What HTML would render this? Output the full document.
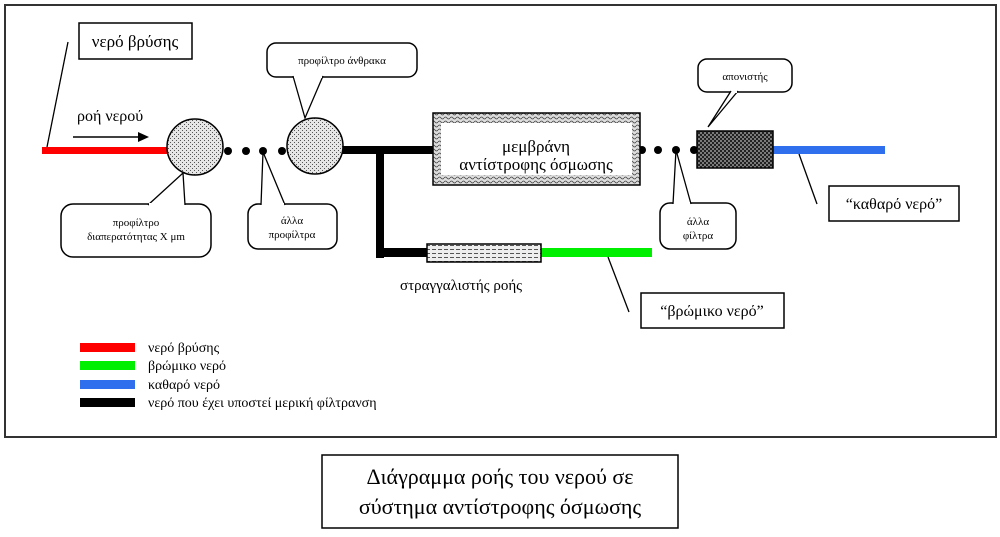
<!DOCTYPE html>
<html><head><meta charset="utf-8"><style>
html,body{margin:0;padding:0;background:#fff;width:1000px;height:537px;overflow:hidden}
svg{display:block}
text{font-family:"Liberation Serif","DejaVu Serif",serif;fill:#000}
</style></head><body>
<svg width="1000" height="537" viewBox="0 0 1000 537" xmlns="http://www.w3.org/2000/svg">
<defs>
<pattern id="stip" width="4" height="4" patternUnits="userSpaceOnUse"><rect width="4" height="4" fill="#e6e6e6"/><rect x="0" y="0" width="1" height="1" fill="#555"/><rect x="2" y="2" width="1" height="1" fill="#555"/></pattern>
<pattern id="wave" width="6" height="4" patternUnits="userSpaceOnUse"><rect width="6" height="4" fill="#ddd"/><path d="M0 2 Q1.5 0 3 2 T6 2" stroke="#444" stroke-width="0.8" fill="none"/></pattern>
<pattern id="chk" width="4" height="4" patternUnits="userSpaceOnUse"><rect width="4" height="4" fill="#222"/><circle cx="1" cy="1" r="0.9" fill="#bbb"/><circle cx="3" cy="3" r="0.9" fill="#bbb"/></pattern>
<pattern id="dash" width="6" height="4" patternUnits="userSpaceOnUse"><rect width="6" height="4" fill="#eee"/><rect x="0" y="1" width="4" height="1" fill="#555"/></pattern>
</defs>
<rect x="5" y="5" width="991" height="432" fill="none" stroke="#333" stroke-width="2"/>

<!-- lines -->
<rect x="42" y="147" width="126" height="7" fill="#ff0000"/>
<rect x="342" y="146" width="93" height="8" fill="#000"/>
<rect x="376" y="146" width="8" height="112" fill="#000"/>
<rect x="376" y="248" width="52" height="9" fill="#000"/>
<rect x="541" y="248" width="111" height="9" fill="#00ee00"/>
<rect x="773" y="146" width="112" height="8" fill="#2f6fee"/>

<!-- circles -->
<circle cx="195" cy="147" r="28" fill="url(#stip)" stroke="#000" stroke-width="1.5"/>
<circle cx="315" cy="146" r="28" fill="url(#stip)" stroke="#000" stroke-width="1.5"/>
<g fill="#000"><circle cx="228" cy="151" r="4"/><circle cx="246" cy="151" r="4"/><circle cx="263" cy="151" r="4"/><circle cx="282" cy="151" r="4"/>
<circle cx="642" cy="150" r="4"/><circle cx="658" cy="150" r="4"/><circle cx="676" cy="150" r="4"/><circle cx="694" cy="150" r="4"/></g>

<!-- membrane -->
<rect x="433" y="113" width="207" height="72" fill="url(#wave)" stroke="#000" stroke-width="1.5"/>
<rect x="441" y="123" width="191" height="52" fill="#fff"/>
<text x="536" y="152" font-size="17" text-anchor="middle">μεμβράνη</text>
<text x="536" y="170" font-size="17" text-anchor="middle">αντίστροφης όσμωσης</text>

<rect x="697" y="131" width="76" height="37" fill="url(#chk)" stroke="#000" stroke-width="1.5"/>
<rect x="427" y="244" width="114" height="18" fill="url(#dash)" stroke="#000" stroke-width="1.5"/>
<text x="400" y="290" font-size="15">στραγγαλιστής ροής</text>

<!-- arrow -->
<text x="77" y="121" font-size="16">ροή νερού</text>
<line x1="73" y1="137" x2="140" y2="137" stroke="#000" stroke-width="1.5"/>
<polygon points="138,132 149,137 138,142" fill="#000"/>

<g fill="#fff" stroke="#000" stroke-width="1.5">
<!-- boxes -->
<rect x="79" y="23" width="113" height="36"/>
<rect x="829" y="186" width="130" height="35"/>
<rect x="641" y="293" width="143" height="35"/>
<!-- callouts -->
<rect x="267" y="43" width="150" height="34" rx="9"/>
<rect x="61" y="204" width="150" height="53" rx="12"/>
<rect x="248" y="204" width="89" height="45" rx="10"/>
<rect x="698" y="59" width="94" height="33" rx="9"/>
<rect x="660" y="203" width="76" height="46" rx="10"/>
</g>
<g stroke="#000" stroke-width="1.3" fill="none">
<line x1="68" y1="42" x2="47" y2="147"/>
<line x1="799" y1="154" x2="817" y2="204"/>
<line x1="608" y1="257" x2="629" y2="312"/>
</g>
<!-- pointers -->
<g fill="#fff" stroke="#000" stroke-width="1.3">
<polyline points="293,76 305,118 323,76"/>
<polyline points="148,205 183,173 185,205"/>
<polyline points="261,205 263,152 285,205"/>
<polyline points="731,91 708,127 738,91"/>
<polyline points="673,204 676,150 691,204"/>
</g>
<g fill="#fff"><rect x="294" y="75" width="28" height="3"/><rect x="149" y="203" width="35" height="3"/><rect x="262" y="203" width="22" height="3"/><rect x="732" y="90" width="5" height="3"/><rect x="674" y="202" width="16" height="3"/></g>

<text x="135" y="47" font-size="17" text-anchor="middle">νερό βρύσης</text>
<text x="894" y="209" font-size="16" text-anchor="middle">“καθαρό νερό”</text>
<text x="712" y="316" font-size="16" text-anchor="middle">“βρώμικο νερό”</text>
<text x="342" y="64" font-size="11" text-anchor="middle">προφίλτρο άνθρακα</text>
<text x="136" y="226" font-size="11" text-anchor="middle">προφίλτρο</text>
<text x="136" y="240" font-size="11" text-anchor="middle">διαπερατότητας X μm</text>
<text x="292" y="224" font-size="11" text-anchor="middle">άλλα</text>
<text x="292" y="238" font-size="11" text-anchor="middle">προφίλτρα</text>
<text x="745" y="80" font-size="11" text-anchor="middle">απονιστής</text>
<text x="698" y="225" font-size="11" text-anchor="middle">άλλα</text>
<text x="698" y="239" font-size="11" text-anchor="middle">φίλτρα</text>

<!-- legend -->
<rect x="80" y="343" width="55" height="9" fill="#ff0000"/>
<rect x="80" y="361" width="55" height="9" fill="#00ee00"/>
<rect x="80" y="380" width="55" height="9" fill="#2f6fee"/>
<rect x="80" y="398" width="55" height="9" fill="#000"/>
<text x="148" y="352" font-size="14">νερό βρύσης</text>
<text x="148" y="370" font-size="14">βρώμικο νερό</text>
<text x="148" y="389" font-size="14">καθαρό νερό</text>
<text x="148" y="407" font-size="14">νερό που έχει υποστεί μερική φίλτρανση</text>

<rect x="322" y="455" width="356" height="73" fill="#fff" stroke="#000" stroke-width="1.5"/>
<text x="500" y="484" font-size="22" text-anchor="middle">Διάγραμμα ροής του νερού σε</text>
<text x="500" y="514" font-size="22" text-anchor="middle">σύστημα αντίστροφης όσμωσης</text>
</svg>
</body></html>
